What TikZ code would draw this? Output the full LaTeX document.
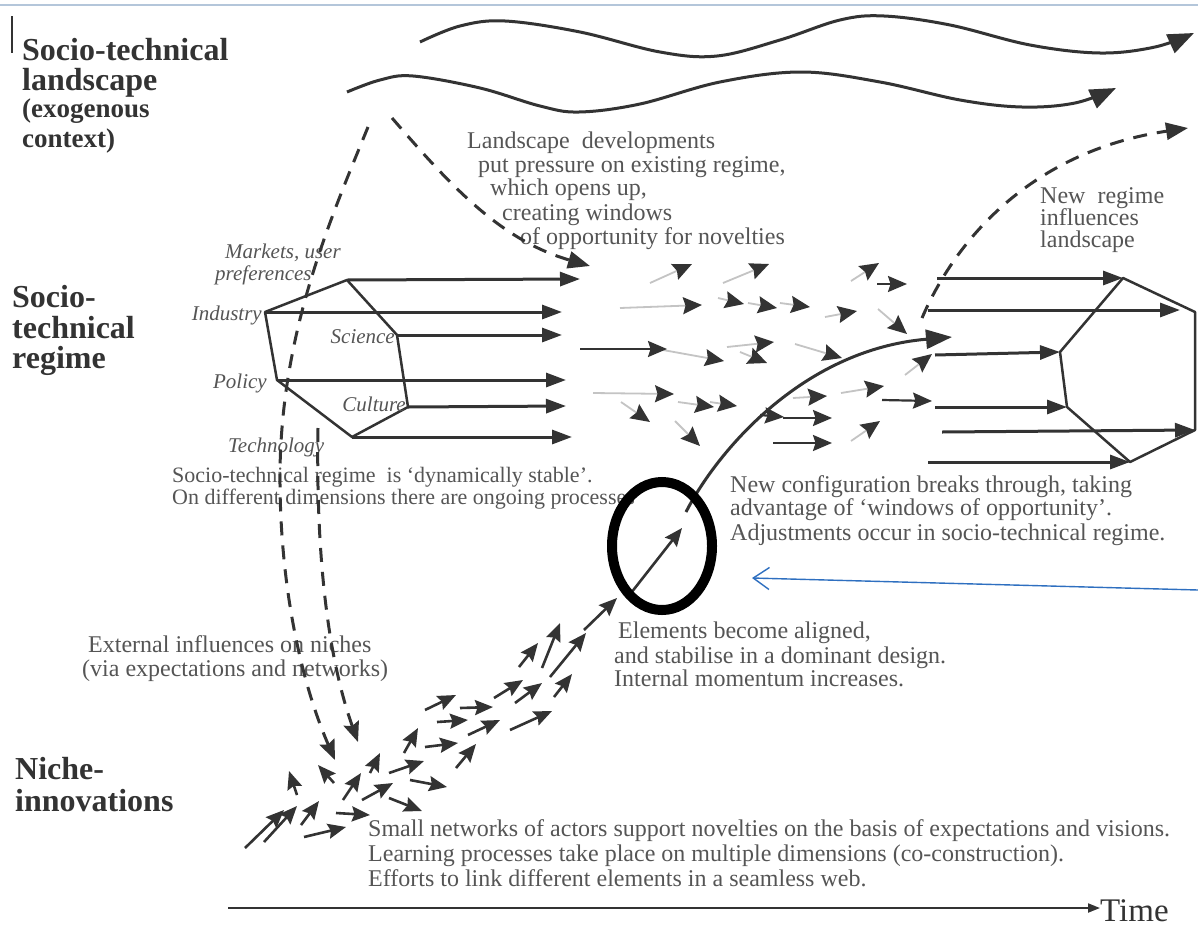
\documentclass[tikz,border=0pt]{standalone}
\usepackage{fontspec}
\setmainfont{Liberation Serif}
\usetikzlibrary{arrows.meta}
\definecolor{ink}{HTML}{333333}
\definecolor{txtg}{HTML}{555555}
\definecolor{shaft}{HTML}{C4C4C4}
\definecolor{blueln}{HTML}{2E6FC0}
\definecolor{topln}{HTML}{B4C6DA}
\begin{document}
\begin{tikzpicture}[x=1pt,y=-1pt,
 ttl/.style={anchor=base west,inner sep=0,text=ink,font=\fontsize{32}{32}\selectfont\bfseries},
 ttls/.style={anchor=base west,inner sep=0,text=ink,font=\fontsize{27}{27}\selectfont\bfseries},
 txt/.style={anchor=base west,inner sep=0,text=txtg,font=\fontsize{24}{24}\selectfont},
 txts/.style={anchor=base west,inner sep=0,text=txtg,font=\fontsize{22}{22}\selectfont},
 lab/.style={inner sep=0,text=txtg,font=\fontsize{21}{21}\selectfont\itshape},
 hexln/.style={draw=ink,line width=2.5pt,line join=round},
 reg/.style={draw=ink,line width=3pt,-{Triangle[length=20pt,width=14pt]}},
 mid/.style={draw=shaft,line width=1.8pt,-{Stealth[length=19pt,width=17pt,inset=2.5pt,color=ink]}},
 midd/.style={draw=ink,line width=2.2pt,-{Stealth[length=19pt,width=16pt,inset=2.5pt]}},
 nic/.style={draw=ink,line width=2.6pt,-{Stealth[length=18pt,width=15pt,inset=2.5pt]}},
 dsh/.style={draw=ink,line width=3pt,dash pattern=on 14pt off 10pt},
 wave/.style={draw=ink,line width=3pt,-{Triangle[length=26pt,width=20pt]}},
]
\useasboundingbox[fill=white] (0,0) rectangle (1198,926);
\draw[topln,line width=1.5pt] (0,5) -- (1198,5);
\draw[ink,line width=2pt] (12,16) -- (12,53);

% titles
\node[ttl]  (t1) at (22,60)  {Socio-technical};
\node[ttl]  (t2) at (22,90)  {landscape};
\node[ttls] (t3) at (22,117) {(exogenous};
\node[ttls] (t4) at (22,147) {context)};
\node[ttl]  (r1) at (12,307) {Socio-};
\node[ttl]  (r2) at (12,338) {technical};
\node[ttl]  (r3) at (12,368) {regime};
\node[ttl]  (n1) at (15,779) {Niche-};
\node[ttl]  (n2) at (15,811) {innovations};

% waves
\draw[wave] plot[smooth,tension=0.6] coordinates {(420,42) (460,26) (505,21) (580,32) (660,52) (717,56) (780,40) (840,20) (884,16) (950,25) (1030,45) (1100,53) (1155,47) (1194,33)};
\draw[wave] plot[smooth,tension=0.6] coordinates {(347,92) (380,80) (413,76) (480,88) (540,106) (579,112) (640,104) (720,82) (801,72) (880,82) (960,100) (1022,107) (1075,103) (1116,88)};

% left hexagon
\coordinate (hM) at (347,280);
\coordinate (hI) at (265,312);
\coordinate (hP) at (277,380);
\coordinate (hT) at (352,437);
\coordinate (hC) at (408,407);
\coordinate (hS) at (397,335);
\draw[hexln] (hM) -- (hI) -- (hP) -- (hT) -- (hC) -- (hS) -- cycle;
\coordinate (eM) at (580,279);
\coordinate (eI) at (562,312);
\coordinate (eS) at (562,335);
\coordinate (eP) at (566,380);
\coordinate (eC) at (566,406);
\coordinate (eT) at (572,437);
\draw[reg] (hM) -- (eM);
\draw[reg] (hI) -- (eI);
\draw[reg] (hS) -- (eS);
\draw[reg] (hP) -- (eP);
\draw[reg] (hC) -- (eC);
\draw[reg] (hT) -- (eT);

\node[lab,anchor=base west] (lm1) at (225,258) {Markets, user};
\node[lab,anchor=base west] (lm2) at (215,280) {preferences};
\node[lab,anchor=base east] (li) at (262,320) {Industry};
\node[lab,anchor=base east] (ls) at (395,343) {Science};
\node[lab,anchor=base east] (lp) at (267,388) {Policy};
\node[lab,anchor=base east] (lc) at (406,411) {Culture};
\node[lab,anchor=base west] (lt) at (228,452) {Technology};

% right hexagon
\coordinate (qT) at (1123,278);
\coordinate (qTR) at (1195,312);
\coordinate (qBR) at (1195,430);
\coordinate (qB) at (1130,462);
\coordinate (qLL) at (1067,407);
\coordinate (qUL) at (1060,352);
\draw[hexln] (qT) -- (qTR) -- (qBR) -- (qB) -- (qLL) -- (qUL) -- cycle;
\coordinate (s1) at (937,278);
\coordinate (s2) at (928,310);
\coordinate (s3) at (935,355);
\coordinate (s4) at (935,407);
\coordinate (s5) at (942,432);
\coordinate (s6) at (928,462);
\coordinate (f2) at (1180,310);
\draw[reg] (s1) -- (qT);
\draw[reg] (s2) -- (f2);
\draw[reg] (s3) -- (qUL);
\draw[reg] (s4) -- (qLL);
\draw[reg] (s5) -- (qBR);
\draw[reg] (s6) -- (qB);

% texts
\node[txt] (a1) at (467,148) {Landscape\ \ developments};
\node[txt] (a2) at (478,172) {put pressure on existing regime,};
\node[txt] (a3) at (490,195) {which opens up,};
\node[txt] (a4) at (502,220) {creating windows};
\node[txt] (a5) at (520,244) {of opportunity for novelties};

\node[txt] (b1) at (1040,203) {New\ \ regime};
\node[txt] (b2) at (1040,225) {influences};
\node[txt] (b3) at (1040,247) {landscape};

\node[txts] (c1) at (172,482) {Socio-technical regime\ \ is `dynamically stable'.};
\node[txts] (c2) at (172,504) {On different dimensions there are ongoing processes};

\node[txt] (d1) at (730,492) {New configuration breaks through, taking};
\node[txt] (d2) at (730,515) {advantage of `windows of opportunity'.};
\node[txt] (d3) at (730,540) {Adjustments occur in socio-technical regime.};

\node[txt] (e1) at (618,638) {Elements become aligned,};
\node[txt] (e2) at (614,663) {and stabilise in a dominant design.};
\node[txt] (e3) at (614,686) {Internal momentum increases.};

\node[txt] (g1) at (88,652) {External influences on niches};
\node[txt] (g2) at (82,676) {(via expectations and networks)};

\node[txt] (h1) at (368,836) {Small networks of actors support novelties on the basis of expectations and visions.};
\node[txt] (h2) at (368,861) {Learning processes take place on multiple dimensions (co-construction).};
\node[txt] (h3) at (368,886) {Efforts to link different elements in a seamless web.};

% time axis
\node[anchor=base west,inner sep=0,text=ink,font=\fontsize{33}{33}\selectfont] (time) at (1100,921) {Time};
\coordinate (t0) at (228,908);
\draw[ink,line width=2pt,-{Triangle[length=12pt,width=9pt]}] (t0) -- (time.west |- t0);

% dashed lines
\draw[dsh,-{Triangle[length=22pt,width=17pt]}] (392,118) .. controls (450,185) and (500,240) .. (590,266);
\draw[dsh,-{Stealth[length=20pt,width=16pt,inset=3pt]}] (368,127) .. controls (330,220) and (282,330) .. (280,470) .. controls (279,580) and (300,680) .. (335,760);
\draw[dsh,-{Stealth[length=20pt,width=16pt,inset=3pt]}] (318,428) .. controls (316,540) and (325,650) .. (358,742);
\draw[dsh,-{Triangle[length=22pt,width=17pt]}] (922,318) .. controls (960,230) and (1040,150) .. (1188,128);

% mid arrows
\foreach \x/\y/\u/\v in {650/283/692/264, 723/283/769/264, 620/308/702/305, 718/298/744/304, 748/303/777/308, 780/303/810/307, 825/317/857/311, 851/281/879/263, 878/309/907/334, 663/350/724/361, 727/347/774/342, 740/352/767/363, 795/344/842/358, 905/375/932/354, 593/393/674/394, 621/402/650/422, 678/402/714/407, 710/402/737/406, 675/421/700/446, 793/398/827/396, 841/393/884/386, 851/441/880/421}
  \draw[mid] (\x,\y) -- (\u,\v);
\foreach \x/\y/\u/\v in {877/284/907/284, 580/349/667/349, 760/415/784/417, 783/418/832/418, 773/443/832/443, 882/400/932/401}
  \draw[midd] (\x,\y) -- (\u,\v);

% main trajectory
\draw[ink,line width=3pt,-{Triangle[length=26pt,width=19pt]}] (686,512) .. controls (715,455) and (800,350) .. (952,337);
\foreach \x/\y/\u/\v in {584/630/617/598, 631/593/682/528, 542/668/560/623, 550/677/586/633, 519/667/538/643, 494/698/523/680, 515/703/542/683, 554/697/572/674, 425/710/456/695, 460/708/493/707, 437/722/468/720, 468/735/500/720, 510/730/552/711, 404/753/418/728, 425/747/458/743, 456/768/476/744, 389/773/424/761, 410/780/447/787, 370/773/380/753, 343/800/361/773, 362/800/393/783, 389/798/422/811, 336/813/370/815, 297/795/289/771, 334/783/318/765, 304/837/346/827, 301/825/319/801, 264/842/297/806, 245/848/284/810}
  \draw[nic] (\x,\y) -- (\u,\v);

% highlight ellipse and blue arrow
\draw[black,line width=10pt] (662,546) ellipse [x radius=50, y radius=64];
\coordinate (bl0) at (1198,590);
\coordinate (bl1) at (752,578);
\draw[blueln,line width=1.4pt,-{Straight Barb[length=16pt,width=22pt,line width=1.4pt]}] (bl0) -- (bl1);
\end{tikzpicture}
\end{document}
